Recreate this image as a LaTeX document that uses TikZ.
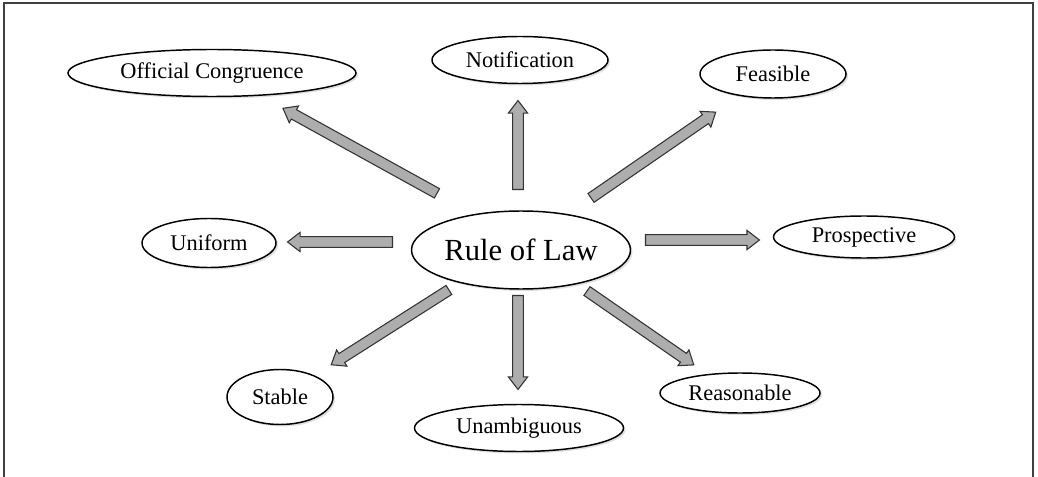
\documentclass[tikz,border=0pt]{standalone}
\usepackage{fontspec}
\setmainfont{Liberation Serif}
\usetikzlibrary{shapes.geometric,shapes.arrows,calc,shadows}
\begin{document}
\begin{tikzpicture}[x=0.75pt,y=-0.75pt,
  oval/.style={ellipse, draw=black, line width=1.1pt, fill=white, inner sep=0pt,
    drop shadow={opacity=0.25, shadow xshift=1.5pt, shadow yshift=-1.5pt},
    font=\fontsize{16.8}{18}\selectfont},
  sz/.style 2 args={minimum width=#1*0.75pt, minimum height=#2*0.75pt},
  blockarrow/.style={single arrow, draw=black!80, fill=black!32, line width=0.8pt,
    inner sep=3.6pt, single arrow head extend=3.2pt, single arrow tip angle=75,
    single arrow head indent=0pt, anchor=center}]
\useasboundingbox (0,0) rectangle (1038,477);
\draw[black!75, line width=1.4pt] (4,477) -- (4,3) -- (1033,3) -- (1033,477);

\node[oval, sz={219}{78}, font=\fontsize{23}{25}\selectfont] (rol) at (521,250) {Rule of Law};
\node[oval, sz={288}{47}] (oc) at (212,73) {Official Congruence};
\node[oval, sz={176}{47}] (not) at (520,60) {Notification};
\node[oval, sz={146}{48}] (fea) at (773,74) {Feasible};
\node[oval, sz={134}{49}] (uni) at (209,243) {Uniform};
\node[oval, sz={181}{42}] (pro) at (864,237) {Prospective};
\node[oval, sz={106}{55}] (sta) at (280,397) {Stable};
\node[oval, sz={209}{47}] (una) at (519,428) {Unambiguous};
\node[oval, sz={160}{40}] (rea) at (740,393) {Reasonable};

% arrow end points
\coordinate (s1) at (440,195); \coordinate (e1) at (286,110);
\coordinate (s2) at (518,193); \coordinate (e2) at (518,104);
\coordinate (s3) at (588,200); \coordinate (e3) at (713,114);
\coordinate (s4) at (396,242); \coordinate (e4) at (291,242);
\coordinate (s5) at (642,240); \coordinate (e5) at (756,240);
\coordinate (s6) at (452,288); \coordinate (e6) at (334,363);
\coordinate (s7) at (518,292); \coordinate (e7) at (518,386);
\coordinate (s8) at (584,289); \coordinate (e8) at (691,363);

\foreach \i in {1,...,8}{
  \path let \p1=($(e\i)-(s\i)$), \n1={atan2(\y1,\x1)}, \n2={veclen(\x1,\y1)} in
    node[blockarrow, rotate=\n1, minimum height=\n2] (arrow\i) at ($(s\i)!0.5!(e\i)$) {};
}
\end{tikzpicture}
\end{document}
